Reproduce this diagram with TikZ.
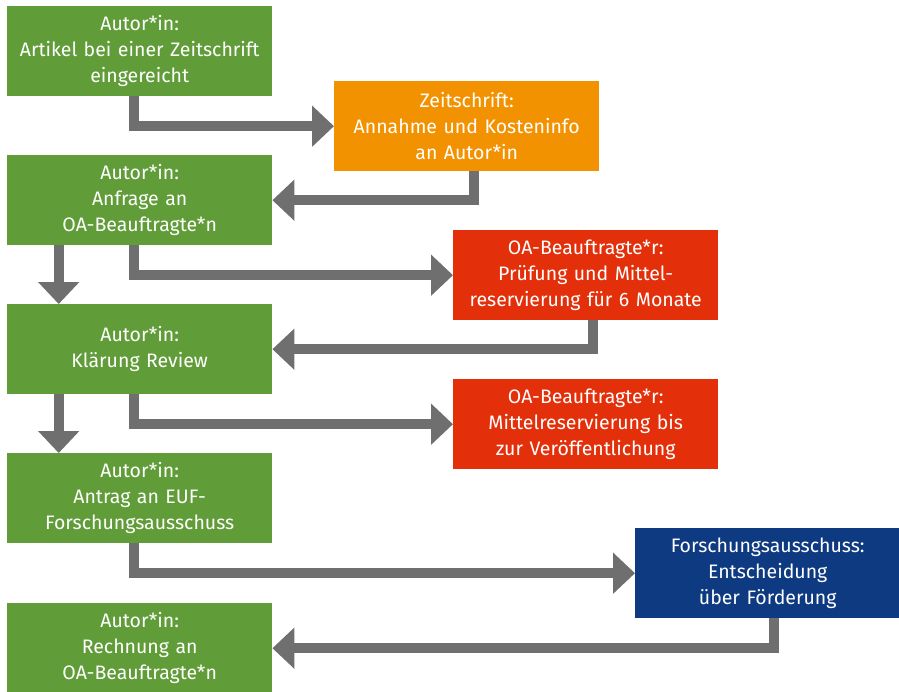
\documentclass[tikz,border=0pt]{standalone}
\usepackage{fontspec}
\setmainfont{Fira Sans}
\usetikzlibrary{arrows.meta}
\definecolor{eufgreen}{HTML}{609C38}
\definecolor{euforange}{HTML}{F39200}
\definecolor{eufred}{HTML}{E3300B}
\definecolor{eufblue}{HTML}{0E3A82}
\definecolor{arrowgray}{HTML}{6F6F6F}
\tikzset{
  box/.style={anchor=north west, minimum width=265pt, minimum height=90pt,
    inner sep=0pt, text width=264pt, align=center, text=white,
    font=\fontsize{19.5}{26}\selectfont},
  author/.style={box, fill=eufgreen},
  journal/.style={box, fill=euforange},
  oaoffice/.style={box, fill=eufred},
  committee/.style={box, fill=eufblue},
  flow/.style={draw=arrowgray, line width=10pt, line join=miter,
    -{Triangle[width=40pt,length=22pt]}}
}
\begin{document}
\begin{tikzpicture}[x=1pt,y=-1pt]
        \useasboundingbox (0,0) rectangle (899,691);

        \node [author] (A1) at (7,6) {Autor*in:\\Artikel bei einer Zeitschrift\\eingereicht};
        \node [journal] (Z) at (334,81) {Zeitschrift:\\Annahme und Kosteninfo\\an Autor*in};
        \node [author] (A2) at (7,155) {Autor*in:\\Anfrage an\\OA-Beauftragte*n};
        \node [oaoffice] (OA1) at (453,230) {OA-Beauftragte*r:\\Prüfung und Mittel-\\reservierung für 6 Monate};
        \node [author] (A3) at (7,304) {Autor*in:\\Klärung Review};
        \node [oaoffice] (OA2) at (453,379) {OA-Beauftragte*r:\\Mittelreservierung bis\\zur Veröffentlichung};
        \node [author] (A4) at (7,453) {Autor*in:\\Antrag an EUF-\\Forschungsausschuss};
        \node [committee] (FA) at (635,528) {Forschungsausschuss:\\Entscheidung\\über Förderung};
        \node [author] (A5) at (7,603) {Autor*in:\\Rechnung an\\OA-Beauftragte*n};

        \draw [flow] ([xshift=-6pt]A1.south) |- (Z.west);
        \draw [flow] ([xshift=7pt]Z.south) |- (A2.east);
        \draw [flow] ([xshift=-6pt]A2.south) |- (OA1.west);
        \draw [flow] ([xshift=7pt]OA1.south) |- (A3.east);
        \draw [flow] ([xshift=-6pt]A3.south) |- (OA2.west);
        \draw [flow] ([xshift=-6pt]A4.south) |- (FA.west);
        \draw [flow] ([xshift=6pt]FA.south) |- (A5.east);

        \draw [flow] ([xshift=-81pt]A2.south) -- ([xshift=-81pt]A3.north);
        \draw [flow] ([xshift=-81pt]A3.south) -- ([xshift=-81pt]A4.north);
    \end{tikzpicture}
\end{document}
